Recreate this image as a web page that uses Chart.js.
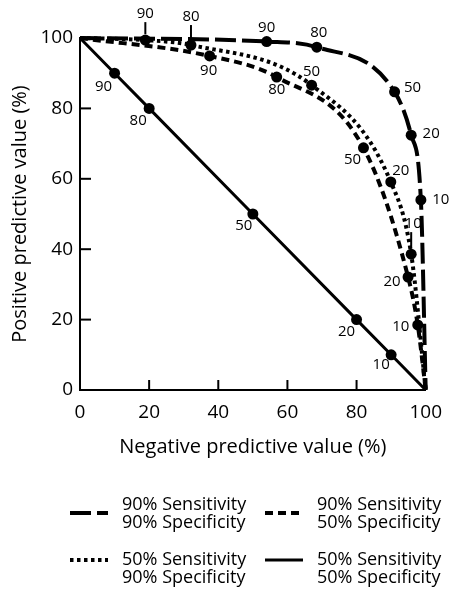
<!DOCTYPE html>
<html lang="en">
<head>
  <meta charset="UTF-8">
  <title>Predictive values</title>
  <script src="https://cdn.jsdelivr.net/npm/chart.js@4"></script>
  <style>
    html, body { margin: 0; padding: 0; background: #fff; }
  </style>
</head>
<body>
  <canvas id="pvChart" width="453" height="590"></canvas>
  <script>
    // prevalence (%) at each marked point
    const prevalence = ['90', '80', '50', '20', '10'];

    // 90% sensitivity, 90% specificity
    const npvSe90Sp90 = [54, 68.5, 91, 95.8, 98.6];
    const ppvSe90Sp90 = [99, 97.4, 84.7, 72.4, 54];
    // 90% sensitivity, 50% specificity
    const npvSe90Sp50 = [37.5, 56.9, 82, 94.9, 97.7];
    const ppvSe90Sp50 = [94.9, 88.9, 68.8, 32.1, 18.5];
    // 50% sensitivity, 90% specificity
    const npvSe50Sp90 = [18.9, 32.1, 67, 89.9, 95.8];
    const ppvSe50Sp90 = [99.4, 98, 86.6, 59.1, 38.6];
    // 50% sensitivity, 50% specificity
    const npvSe50Sp50 = [10, 20, 50, 80, 90];
    const ppvSe50Sp50 = [90, 80, 50, 20, 10];

    const axisTicks = [0, 20, 40, 60, 80, 100];

    const legendText = [
      ['90% Sensitivity', '90% Specificity'],
      ['90% Sensitivity', '50% Specificity'],
      ['50% Sensitivity', '90% Specificity'],
      ['50% Sensitivity', '50% Specificity']
    ];

    // curves run from (0,100) to (100,0)
    function curve(npv, ppv) {
      const pts = [{ x: 0, y: 100 }];
      npv.forEach((v, i) => pts.push({ x: v, y: ppv[i] }));
      pts.push({ x: 100, y: 0 });
      return pts;
    }

    const dashStyles = [[21, 6], [8, 5], [3.5, 3.5], []];
    const lineWidths = [4, 4, 4, 3];

    // label offsets (px) from each marker, plus optional leader line
    const labelPlace = [
      [[0, -14], [2, -14], [18, -4], [20, -1], [20, 0]],
      [[-1, 15], [0, 13], [-11, 12], [-16, 5], [-17, 2]],
      [[0, -26, true], [0, -28, true], [0, -13], [10, -11], [2, -30, true]],
      [[-11, 14], [-11, 12], [-9, 12], [-10, 12], [-10, 10]]
    ];

    const series = [
      curve(npvSe90Sp90, ppvSe90Sp90),
      curve(npvSe90Sp50, ppvSe90Sp50),
      curve(npvSe50Sp90, ppvSe50Sp90),
      curve(npvSe50Sp50, ppvSe50Sp50)
    ];

    const datasets = series.map((pts, i) => ({
      label: legendText[i].join(' '),
      data: pts,
      borderColor: '#000',
      backgroundColor: '#000',
      borderWidth: lineWidths[i],
      borderDash: dashStyles[i],
      cubicInterpolationMode: i < 3 ? 'monotone' : 'default',
      tension: 0,
      pointRadius: ctx => (ctx.dataIndex === 0 || ctx.dataIndex === pts.length - 1) ? 0 : 5.5,
      pointBorderWidth: 0,
      pointBackgroundColor: '#000',
      clip: false
    }));

    const annotate = {
      id: 'annotate',
      afterDatasetsDraw(chart) {
        const { ctx, scales: { x, y } } = chart;
        ctx.save();
        ctx.strokeStyle = '#000';
        ctx.fillStyle = '#000';
        ctx.lineWidth = 2;
        ctx.setLineDash([]);

        // inward tick marks
        axisTicks.slice(1, -1).forEach(v => {
          const px = x.getPixelForValue(v);
          ctx.beginPath(); ctx.moveTo(px, y.bottom); ctx.lineTo(px, y.bottom - 10); ctx.stroke();
          const py = y.getPixelForValue(v);
          ctx.beginPath(); ctx.moveTo(x.left, py); ctx.lineTo(x.left + 11, py); ctx.stroke();
        });

        // prevalence labels
        ctx.font = '15px "Open Sans"';
        ctx.textAlign = 'center';
        ctx.textBaseline = 'middle';
        chart.data.datasets.forEach((ds, di) => {
          const meta = chart.getDatasetMeta(di);
          prevalence.forEach((lab, k) => {
            const el = meta.data[k + 1];
            const [dx, dy, lead] = labelPlace[di][k];
            const lx = el.x + dx, ly = el.y + dy;
            ctx.fillText(lab, lx, ly);
            if (lead) {
              ctx.lineWidth = 2;
              ctx.beginPath(); ctx.moveTo(el.x, ly + 8); ctx.lineTo(el.x, el.y - 6); ctx.stroke();
            }
          });
        });

        // legend
        const cols = [70, 265];
        const rows = [505, 560];
        ctx.font = '18px "Open Sans"';
        ctx.textAlign = 'left';
        legendText.forEach((txt, i) => {
          const cx = cols[i % 2];
          const ry = rows[Math.floor(i / 2)];
          const symY = i < 2 ? ry + 8 : ry;
          ctx.lineWidth = lineWidths[i];
          ctx.setLineDash(dashStyles[i]);
          ctx.beginPath(); ctx.moveTo(cx, symY); ctx.lineTo(cx + 38, symY); ctx.stroke();
          ctx.setLineDash([]);
          ctx.fillText(txt[0], cx + 52, ry);
          ctx.fillText(txt[1], cx + 52, ry + 18);
        });
        ctx.restore();
      }
    };

    const tickFont = { family: 'Open Sans', size: 19 };
    const titleFont = { family: 'Open Sans', size: 20 };

    new Chart(document.getElementById('pvChart'), {
      type: 'scatter',
      data: { datasets },
      options: {
        responsive: false,
        animation: false,
        showLine: true,
        layout: { padding: { top: 38, right: 18, left: 0, bottom: 130 } },
        plugins: { legend: { display: false }, tooltip: { enabled: false } },
        scales: {
          x: {
            min: 0, max: 100,
            afterFit: s => { s.height = 70; },
            grid: { display: false, drawTicks: false },
            border: { display: true, color: '#000', width: 2 },
            ticks: { stepSize: 20, padding: 11, color: '#000', font: tickFont, maxRotation: 0 },
            title: { display: true, text: 'Negative predictive value (%)', color: '#000', font: titleFont, padding: { top: 0, bottom: 1 } }
          },
          y: {
            min: 0, max: 100,
            afterFit: s => { s.width = 80; },
            grid: { display: false, drawTicks: false },
            border: { display: true, color: '#000', width: 2 },
            ticks: { stepSize: 20, padding: 7, color: '#000', font: tickFont },
            title: { display: true, text: 'Positive predictive value (%)', color: '#000', font: titleFont, padding: { top: 8, bottom: 0 } }
          }
        }
      },
      plugins: [annotate]
    });
  </script>
</body>
</html>
